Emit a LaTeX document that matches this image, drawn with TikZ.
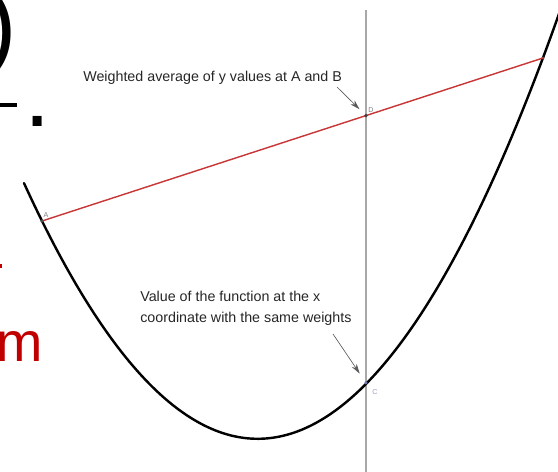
\documentclass[tikz,border=0pt]{standalone}
\usepackage{fontspec}
\setmainfont{Liberation Sans}
\usetikzlibrary{arrows.meta}
\definecolor{ChordRed}{HTML}{C83737}
\definecolor{SlideRed}{HTML}{C00000}
\definecolor{GuideGray}{HTML}{A8A8A8}
\definecolor{PointBlue}{HTML}{6E6EB4}
\tikzset{
  callout/.style={-{Stealth[length=2.4mm,width=1.4mm]}, draw=black!65, line width=0.45pt},
  calloutlabel/.style={font=\fontsize{10}{14.7}\selectfont, align=left, inner sep=0pt, text=black!85},
  ptlabel/.style={font=\fontsize{5}{6}\selectfont, inner sep=0pt},
  ptdot/.style={circle, fill=#1, inner sep=0pt, minimum size=2.4pt}
}

\begin{document}
\begin{tikzpicture}[x=0.7pt, y=-0.7pt,
  curve/.style={line width=1.7pt, line cap=round},
  chord/.style={ChordRed, line width=1pt},
  guide/.style={GuideGray, line width=1pt},
  slidetext/.style={font=\fontsize{66}{70}\selectfont, inner sep=0pt, anchor=base west}
]
\useasboundingbox (0,0) rectangle (558,472);
\clip (0,0) rectangle (558,472);

% slide text cut off at the left edge
\node[slidetext] (paren) at (-15,57.5) {)};
\fill (0,103) rectangle (17,107.5);
\node[slidetext] (stop) at (24.4,127) {.};
\fill[SlideRed] (0,264) rectangle (1.8,268);
\node[slidetext, font=\fontsize{39}{42}\selectfont, text=SlideRed] (mfrag) at (-3.6,362) {m};

% vertical line through x
\draw[guide] (366,10) -- (366,472);

% the function
\draw[curve] plot[domain=24:562, samples=150, smooth] (\x, {438.8-(0.068418*(\x-257.7))^2});

% points
\node[ptdot=black!70] (A) at (42,221) {};
\node[ptdot=black!70] (B) at (543,58) {};
\node[ptdot=black!75] (D) at (366,115.6) {};
\node[ptdot=PointBlue] (C) at (366,382.9) {};
\draw[chord] (A.center) -- (B.center);
\node[ptdot=black!70] at (A) {};
\node[ptdot=black!75] at (D) {};

\node[ptlabel, text=gray] (Alab) at (46,215) {A};
\node[ptlabel, text=gray] (Dlab) at (371,110) {D};
\node[ptlabel, text=PointBlue!70] (Clab) at (375,392) {C};

% callouts
\node[calloutlabel, anchor=base west] (avgtext) at (83,82) {Weighted average of y values at A and B};
\coordinate (avgtail) at (337,87);
\draw[callout, shorten >=5pt] (avgtail) -- (D);

\node[calloutlabel, anchor=north west] (fxtext) at (140,291) {Value of the function at the x\\coordinate with the same weights};
\coordinate (fxtail) at (333,334);
\draw[callout, shorten >=6.5pt] (fxtail) -- (C);
\end{tikzpicture}
\end{document}
